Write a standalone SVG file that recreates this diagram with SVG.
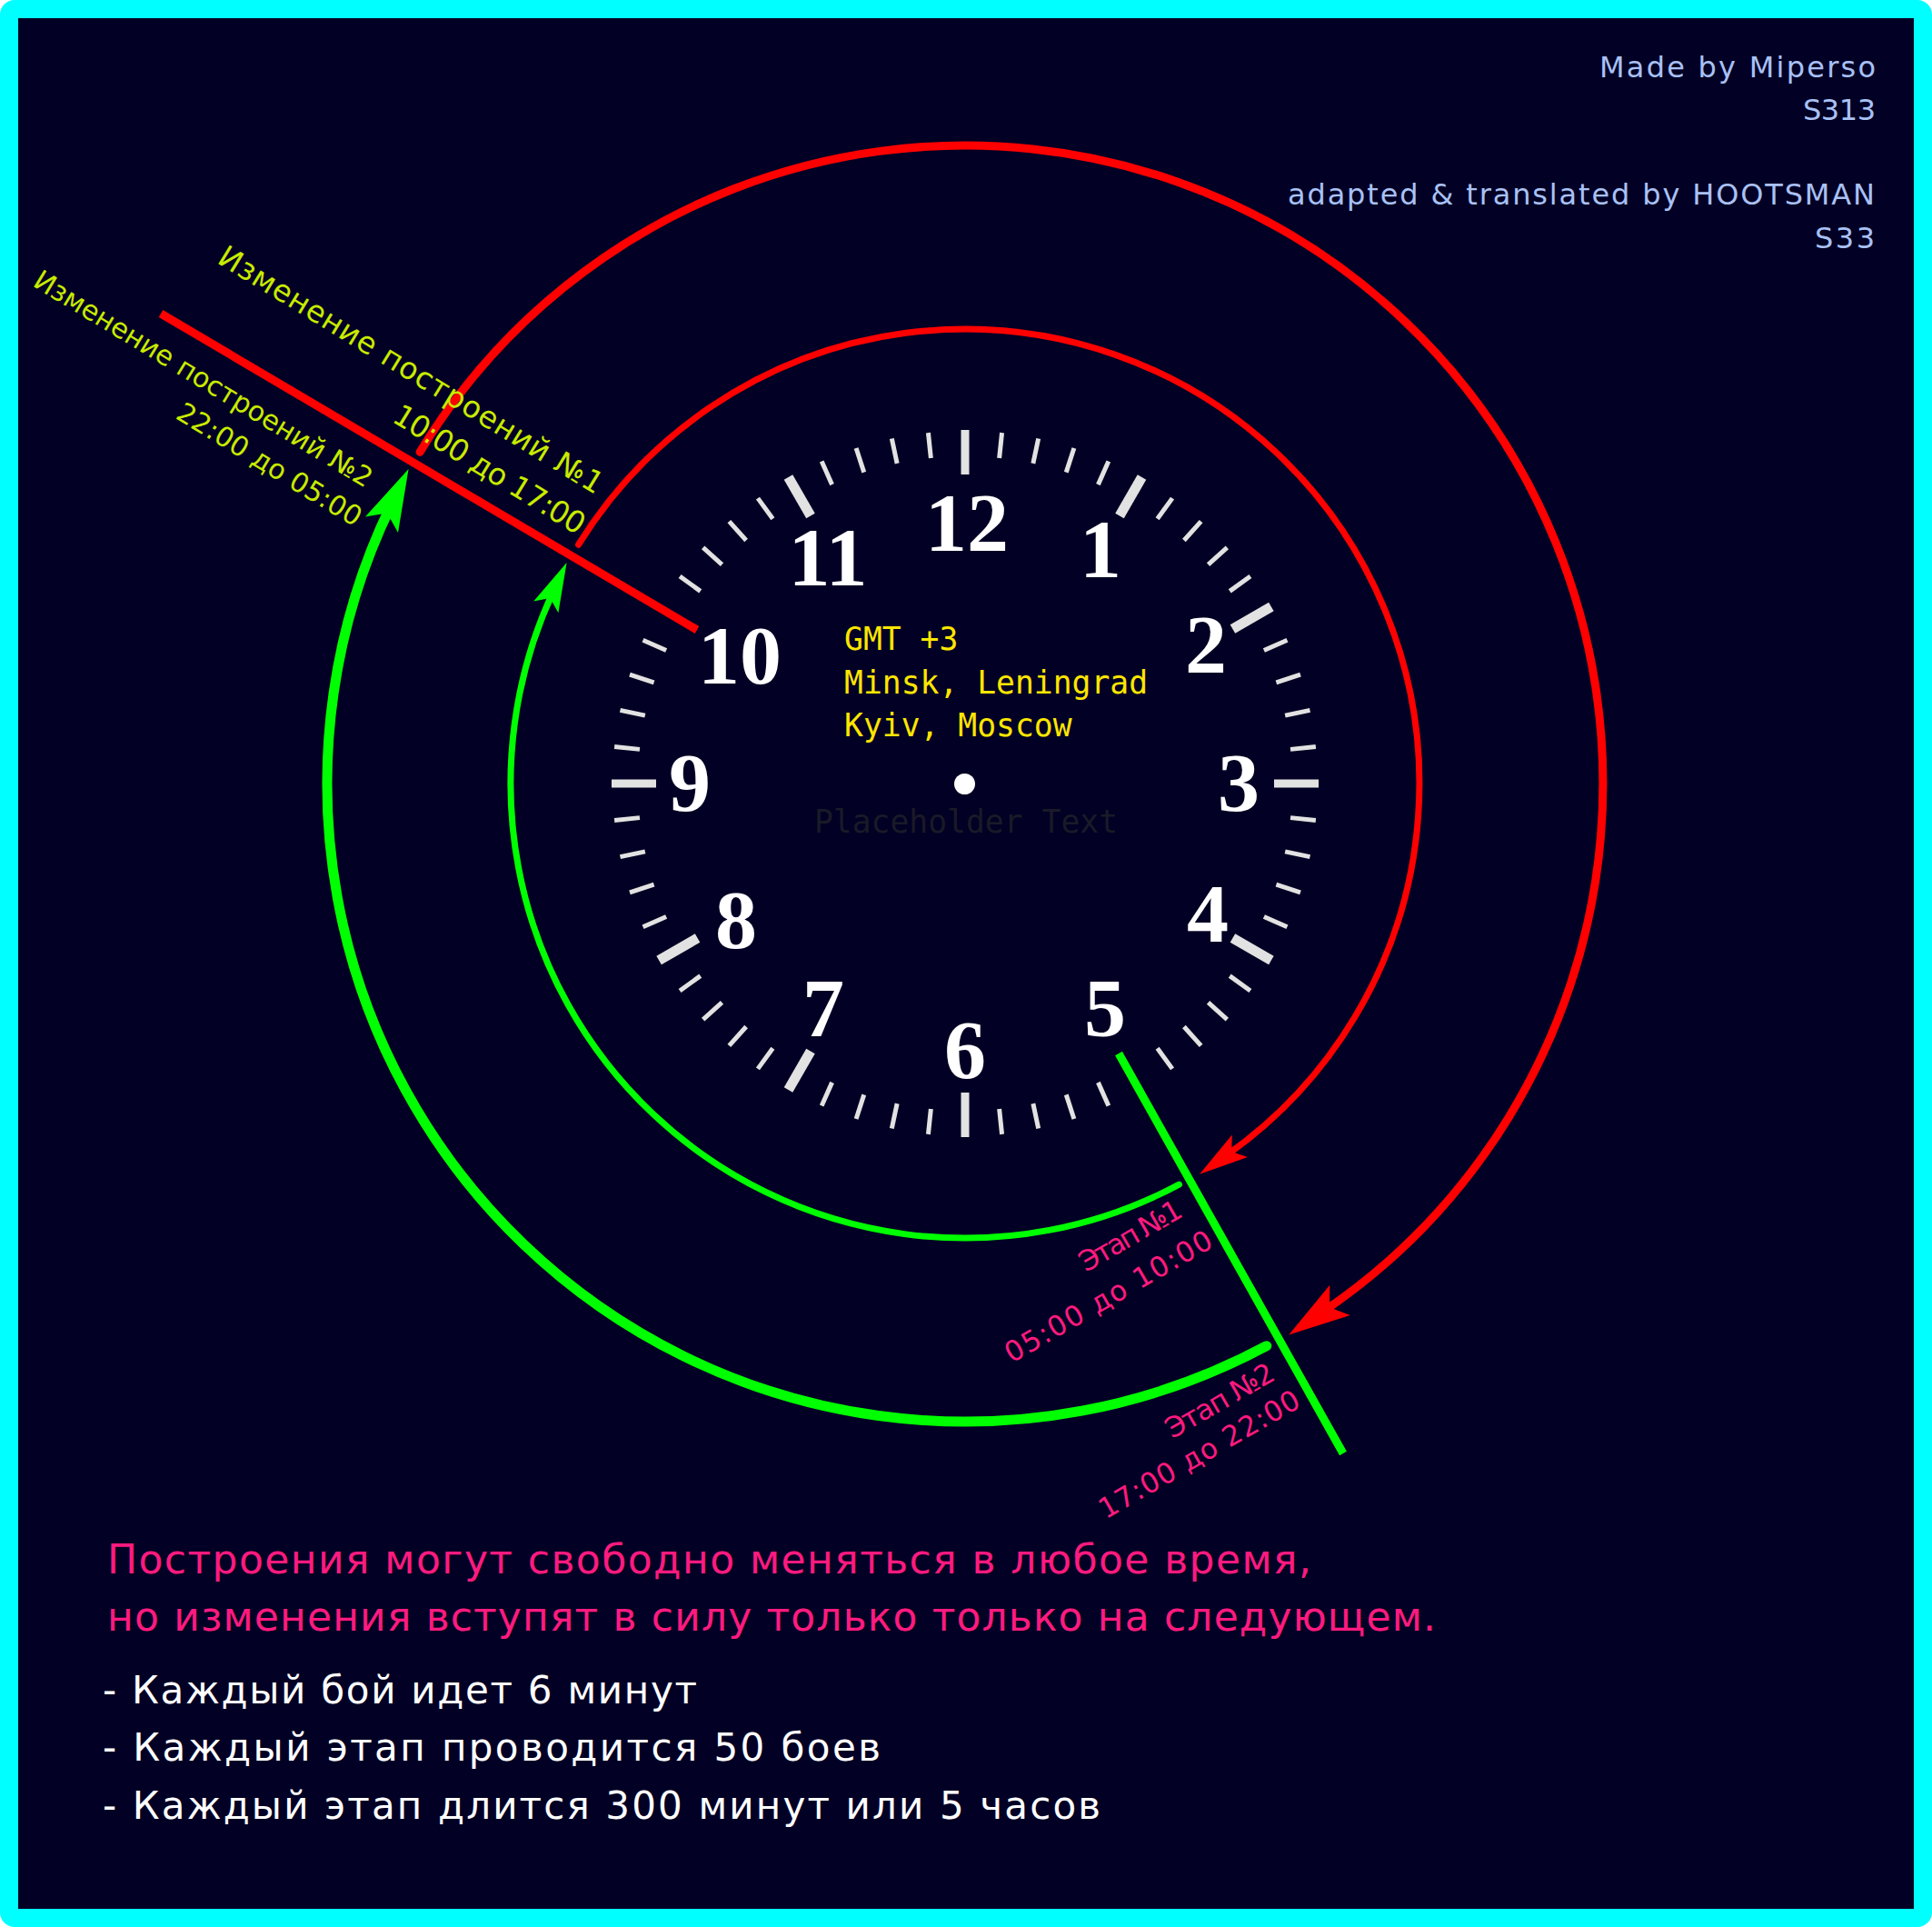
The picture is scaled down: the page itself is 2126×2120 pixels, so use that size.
<svg xmlns="http://www.w3.org/2000/svg" xmlns:xlink="http://www.w3.org/1999/xlink" width="2126" height="2120" viewBox="0 0 2126 2120">
<style>
.mn{stroke:#e2e2e2;stroke-width:5}
.hr{stroke:#e2e2e2;stroke-width:11}
.cd{stroke:#e2e2e2;stroke-width:9}
.num{font-family:"Liberation Serif","DejaVu Serif",serif;font-weight:bold;font-size:92px;fill:#ffffff;text-anchor:middle}
.mono{font-family:"DejaVu Sans Mono","Liberation Mono",monospace;font-size:34.7px}
.lbl{font-family:"DejaVu Sans","Noto Sans",sans-serif}
.ylw{fill:#c8eb00}
.pnk{fill:#ff1a7f}
.cred{font-family:"DejaVu Sans","Noto Sans",sans-serif;font-size:32px;fill:#a9c1f5}
.bot{font-family:"DejaVu Sans","Noto Sans",sans-serif}
.arc{fill:none;stroke-linecap:round}
</style>
<defs>
<line id="tm" x1="1062" y1="474" x2="1062" y2="502" class="mn"/>
<line id="th" x1="1062" y1="473" x2="1062" y2="522" class="hr"/>
<line id="tc" x1="1062" y1="473" x2="1062" y2="522" class="cd"/>
<marker id="arRB" markerUnits="userSpaceOnUse" markerWidth="120" markerHeight="120" refX="0" refY="0" orient="auto" overflow="visible"><path d="M45,0 L-23,-20 L-9,0 L-23,20 Z" fill="#ff0000"/></marker>
<marker id="arRS" markerUnits="userSpaceOnUse" markerWidth="120" markerHeight="120" refX="0" refY="0" orient="auto" overflow="visible"><path d="M35,0 L-19,-15 L-8,0 L-19,15 Z" fill="#ff0000"/></marker>
<marker id="arGB" markerUnits="userSpaceOnUse" markerWidth="120" markerHeight="120" refX="0" refY="0" orient="auto" overflow="visible"><path d="M45,0 L-23,-20 L-9,0 L-23,20 Z" fill="#00ff00"/></marker>
<marker id="arGS" markerUnits="userSpaceOnUse" markerWidth="120" markerHeight="120" refX="0" refY="0" orient="auto" overflow="visible"><path d="M35,0 L-19,-15 L-8,0 L-19,15 Z" fill="#00ff00"/></marker>
</defs>
<rect x="0" y="0" width="2126" height="2120" rx="16" fill="#00ffff"/>
<rect x="20" y="20" width="2086" height="2080" fill="#020024"/>

<g id="clock">
<g id="ticks">
<use href="#tc"/>
<use href="#tm" transform="rotate(6 1062 862)"/><use href="#tm" transform="rotate(12 1062 862)"/><use href="#tm" transform="rotate(18 1062 862)"/><use href="#tm" transform="rotate(24 1062 862)"/>
<use href="#th" transform="rotate(30 1062 862)"/>
<use href="#tm" transform="rotate(36 1062 862)"/><use href="#tm" transform="rotate(42 1062 862)"/><use href="#tm" transform="rotate(48 1062 862)"/><use href="#tm" transform="rotate(54 1062 862)"/>
<use href="#th" transform="rotate(60 1062 862)"/>
<use href="#tm" transform="rotate(66 1062 862)"/><use href="#tm" transform="rotate(72 1062 862)"/><use href="#tm" transform="rotate(78 1062 862)"/><use href="#tm" transform="rotate(84 1062 862)"/>
<use href="#tc" transform="rotate(90 1062 862)"/>
<use href="#tm" transform="rotate(96 1062 862)"/><use href="#tm" transform="rotate(102 1062 862)"/><use href="#tm" transform="rotate(108 1062 862)"/><use href="#tm" transform="rotate(114 1062 862)"/>
<use href="#th" transform="rotate(120 1062 862)"/>
<use href="#tm" transform="rotate(126 1062 862)"/><use href="#tm" transform="rotate(132 1062 862)"/><use href="#tm" transform="rotate(138 1062 862)"/><use href="#tm" transform="rotate(144 1062 862)"/>
<use href="#tm" transform="rotate(156 1062 862)"/><use href="#tm" transform="rotate(162 1062 862)"/><use href="#tm" transform="rotate(168 1062 862)"/><use href="#tm" transform="rotate(174 1062 862)"/>
<use href="#tc" transform="rotate(180 1062 862)"/>
<use href="#tm" transform="rotate(186 1062 862)"/><use href="#tm" transform="rotate(192 1062 862)"/><use href="#tm" transform="rotate(198 1062 862)"/><use href="#tm" transform="rotate(204 1062 862)"/>
<use href="#th" transform="rotate(210 1062 862)"/>
<use href="#tm" transform="rotate(216 1062 862)"/><use href="#tm" transform="rotate(222 1062 862)"/><use href="#tm" transform="rotate(228 1062 862)"/><use href="#tm" transform="rotate(234 1062 862)"/>
<use href="#th" transform="rotate(240 1062 862)"/>
<use href="#tm" transform="rotate(246 1062 862)"/><use href="#tm" transform="rotate(252 1062 862)"/><use href="#tm" transform="rotate(258 1062 862)"/><use href="#tm" transform="rotate(264 1062 862)"/>
<use href="#tc" transform="rotate(270 1062 862)"/>
<use href="#tm" transform="rotate(276 1062 862)"/><use href="#tm" transform="rotate(282 1062 862)"/><use href="#tm" transform="rotate(288 1062 862)"/><use href="#tm" transform="rotate(294 1062 862)"/>
<use href="#tm" transform="rotate(306 1062 862)"/><use href="#tm" transform="rotate(312 1062 862)"/><use href="#tm" transform="rotate(318 1062 862)"/><use href="#tm" transform="rotate(324 1062 862)"/>
<use href="#th" transform="rotate(330 1062 862)"/>
<use href="#tm" transform="rotate(336 1062 862)"/><use href="#tm" transform="rotate(342 1062 862)"/><use href="#tm" transform="rotate(348 1062 862)"/><use href="#tm" transform="rotate(354 1062 862)"/>
</g>
<g id="numerals">
<text class="num" x="1064" y="606">12</text>
<text class="num" x="1211" y="635">1</text>
<text class="num" x="1327" y="740">2</text>
<text class="num" x="1363" y="892">3</text>
<text class="num" x="1329" y="1036">4</text>
<text class="num" x="1216" y="1140">5</text>
<text class="num" x="1062" y="1186">6</text>
<text class="num" x="906" y="1140">7</text>
<text class="num" x="810" y="1043">8</text>
<text class="num" x="759" y="892">9</text>
<text class="num" x="814" y="752">10</text>
<text class="num" x="911" y="644">11</text>
</g>
<circle id="center-dot" cx="1061.5" cy="862.5" r="11.5" fill="#ffffff"/>
<g id="timezone" class="mono" fill="#ffe600">
<text x="929" y="715">GMT +3</text>
<text x="929" y="763">Minsk, Leningrad</text>
<text x="929" y="810">Kyiv, Moscow</text>
</g>
<text id="placeholder" class="mono" x="1063" y="916" text-anchor="middle" fill="#1a1a28">Placeholder Text</text>
</g>

<g id="connectors">
<path class="arc" d="M462.1,497.3 A702,702 0 1 1 1455.5,1443.3" stroke="#ff0000" stroke-width="9" marker-end="url(#arRB)"/>
<path class="arc" d="M636.6,599.2 A500,500 0 1 1 1348.8,1271.6" stroke="#ff0000" stroke-width="7" marker-end="url(#arRS)"/>
<path class="arc" d="M1297.5,1303.1 A500,500 0 0 1 608.8,650.7" stroke="#00ff00" stroke-width="7" marker-end="url(#arGS)"/>
<path class="arc" d="M1393.8,1480.7 A702,702 0 0 1 430.0,556.5" stroke="#00ff00" stroke-width="11" marker-end="url(#arGB)"/>
<line id="line-10" x1="767" y1="693" x2="177" y2="345" stroke="#ff0000" stroke-width="9"/>
<line id="line-5" x1="1231" y1="1159" x2="1478" y2="1599" stroke="#00ff00" stroke-width="9"/>
</g>

<g id="label-change1" class="lbl ylw">
<text transform="translate(237.6,288.4) rotate(31.5)" font-size="33" textLength="490" lengthAdjust="spacing">Изменение построений №1</text>
<text transform="translate(430,463) rotate(31.5)" font-size="33" textLength="241" lengthAdjust="spacing">10:00 до 17:00</text>
</g>
<g id="label-change2" class="lbl ylw">
<text transform="translate(34.7,313.9) rotate(31.3)" font-size="30" textLength="430" lengthAdjust="spacing">Изменение построений №2</text>
<text transform="translate(192,459.5) rotate(31.3)" font-size="30" textLength="232" lengthAdjust="spacing">22:00 до 05:00</text>
</g>
<g id="label-stage1" class="lbl pnk">
<text transform="translate(1195,1400) rotate(-30)" font-size="31" textLength="125" lengthAdjust="spacing">Этап №1</text>
<text transform="translate(1113.3,1500) rotate(-30)" font-size="31" textLength="258" lengthAdjust="spacing">05:00 до 10:00</text>
</g>
<g id="label-stage2" class="lbl pnk">
<text transform="translate(1290,1583.3) rotate(-30)" font-size="31" textLength="133" lengthAdjust="spacing">Этап №2</text>
<text transform="translate(1216.7,1671.7) rotate(-30)" font-size="31" textLength="250" lengthAdjust="spacing">17:00 до 22:00</text>
</g>

<g id="credits" class="cred">
<text x="1760" y="85" textLength="304" lengthAdjust="spacing">Made by Miperso</text>
<text x="1984" y="132" textLength="80" lengthAdjust="spacing">S313</text>
<text x="1417" y="225" textLength="646" lengthAdjust="spacing">adapted &amp; translated by HOOTSMAN</text>
<text x="1997" y="273" textLength="66" lengthAdjust="spacing">S33</text>
</g>

<g id="notes" class="bot">
<text x="118" y="1731" font-size="44" fill="#ff1a7f" textLength="1325" lengthAdjust="spacing">Построения могут свободно меняться в любое время,</text>
<text x="118" y="1794" font-size="44" fill="#ff1a7f" textLength="1462" lengthAdjust="spacing">но изменения вступят в силу только только на следующем.</text>
<text x="113" y="1874" font-size="42" fill="#ffffff" textLength="654" lengthAdjust="spacing">- Каждый бой идет 6 минут</text>
<text x="113" y="1937" font-size="42" fill="#ffffff" textLength="856" lengthAdjust="spacing">- Каждый этап проводится 50 боев</text>
<text x="113" y="2001" font-size="42" fill="#ffffff" textLength="1098" lengthAdjust="spacing">- Каждый этап длится 300 минут или 5 часов</text>
</g>
</svg>
